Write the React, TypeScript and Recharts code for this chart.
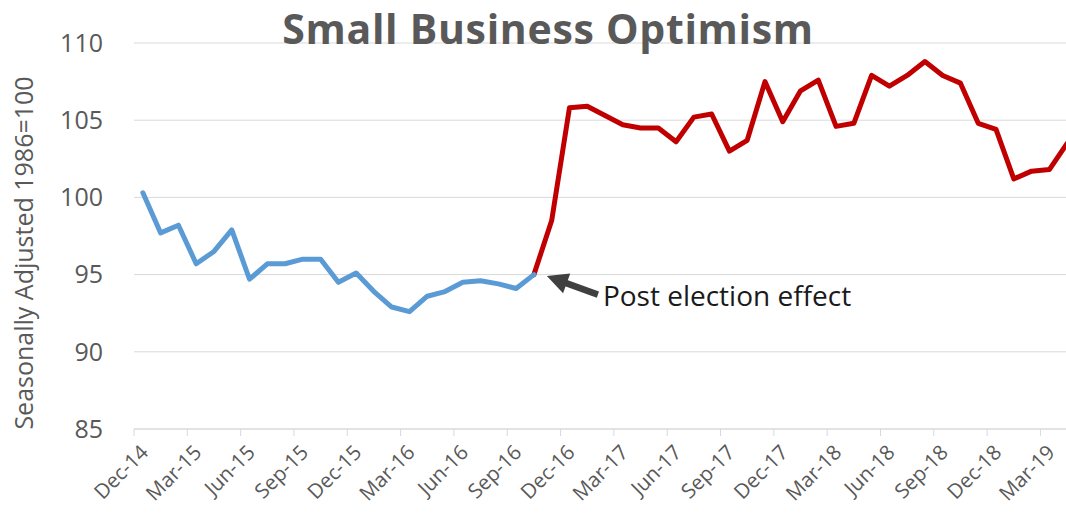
import { LineChart, Line, XAxis, YAxis, CartesianGrid, ReferenceDot } from 'recharts';

const FONT = "'Open Sans', sans-serif";
const GREY = '#595959';
const GRID = '#d9d9d9';

// monthly index, Dec-14 .. Apr-19
const months = [
  'Dec-14',
  'Jan-15', 'Feb-15', 'Mar-15', 'Apr-15', 'May-15', 'Jun-15', 'Jul-15', 'Aug-15', 'Sep-15', 'Oct-15', 'Nov-15', 'Dec-15',
  'Jan-16', 'Feb-16', 'Mar-16', 'Apr-16', 'May-16', 'Jun-16', 'Jul-16', 'Aug-16', 'Sep-16', 'Oct-16', 'Nov-16', 'Dec-16',
  'Jan-17', 'Feb-17', 'Mar-17', 'Apr-17', 'May-17', 'Jun-17', 'Jul-17', 'Aug-17', 'Sep-17', 'Oct-17', 'Nov-17', 'Dec-17',
  'Jan-18', 'Feb-18', 'Mar-18', 'Apr-18', 'May-18', 'Jun-18', 'Jul-18', 'Aug-18', 'Sep-18', 'Oct-18', 'Nov-18', 'Dec-18',
  'Jan-19', 'Feb-19', 'Mar-19', 'Apr-19',
];

// Dec-14 .. Oct-16
const preElection = [
  100.3, 97.7, 98.2, 95.7, 96.5, 97.9, 94.7, 95.7, 95.7, 96.0, 96.0, 94.5,
  95.1, 93.9, 92.9, 92.6, 93.6, 93.9, 94.5, 94.6, 94.4, 94.1, 95.0,
];

// Oct-16 .. Apr-19 (starts on the last pre-election point)
const postElection = [
  95.0, 98.5, 105.8,
  105.9, 105.3, 104.7, 104.5, 104.5, 103.6, 105.2, 105.4, 103.0, 103.7, 107.5, 104.9,
  106.9, 107.6, 104.6, 104.8, 107.9, 107.2, 107.9, 108.8, 107.9, 107.4, 104.8, 104.4,
  101.2, 101.7, 101.8, 103.5,
];

const yTicks = [85, 90, 95, 100, 105, 110];
const electionMonth = 'Oct-16';

const splitAt = preElection.length - 1;
const chartData = months.map((month, i) => ({
  month,
  before: i < preElection.length ? preElection[i] : null,
  after: i >= splitAt ? postElection[i - splitAt] : null,
}));

const MonthTick = (props: any) => {
  const { x, y, payload } = props;
  const half = payload && payload.offset ? payload.offset : 8.9;
  const ax = x + 1;
  const ay = y + 19;
  return (
    <g>
      <line x1={x - half} y1={y} x2={x - half} y2={y + 7} stroke={GRID} strokeWidth={1} />
      <text
        x={ax}
        y={ay}
        transform={`rotate(-45, ${ax}, ${ay})`}
        textAnchor="end"
        dominantBaseline="central"
        fill={GREY}
        fontSize={20.5}
        fontFamily={FONT}
      >
        {payload.value}
      </text>
    </g>
  );
};

const YTitle = (props: any) => {
  const vb = props.viewBox || { x: 0, y: 43, width: 134, height: 386 };
  const cx = 23;
  const cy = vb.y + vb.height / 2 + 17;
  return (
    <text
      x={cx}
      y={cy}
      transform={`rotate(-90, ${cx}, ${cy})`}
      textAnchor="middle"
      dominantBaseline="central"
      fill={GREY}
      fontSize={25}
      fontFamily={FONT}
    >
      Seasonally Adjusted 1986=100
    </text>
  );
};

// arrow + note, placed relative to the election point
const ElectionArrow = (props: any) => {
  const { cx, cy } = props;
  if (cx == null || cy == null) return null;
  const tipX = cx + 13;
  const tipY = cy + 1.5;
  const tailX = cx + 64;
  const tailY = cy + 20;
  const ang = Math.atan2(tailY - tipY, tailX - tipX);
  const ux = Math.cos(ang);
  const uy = Math.sin(ang);
  const headLen = 21;
  const headHalf = 10.5;
  const bx = tipX + ux * headLen;
  const by = tipY + uy * headLen;
  const p1 = `${bx - uy * headHalf},${by + ux * headHalf}`;
  const p2 = `${bx + uy * headHalf},${by - ux * headHalf}`;
  return (
    <g>
      <line x1={bx - ux * 2} y1={by - uy * 2} x2={tailX} y2={tailY} stroke="#404040" strokeWidth={6.5} />
      <polygon points={`${tipX},${tipY} ${p1} ${p2}`} fill="#404040" />
      <text x={cx + 69} y={cy + 31} fill="#1a1a1a" fontSize={28} fontFamily={FONT}>
        Post election effect
      </text>
    </g>
  );
};

export default function App() {
  return (
    <div
      style={{
        position: 'absolute',
        left: 0,
        top: 0,
        width: 1066,
        height: 515,
        overflow: 'hidden',
        background: '#fff',
      }}
    >
      <LineChart
        width={1090}
        height={515}
        data={chartData}
        margin={{ top: 43, right: 14, bottom: 6, left: 0 }}
      >
        <CartesianGrid vertical={false} stroke={GRID} strokeWidth={1} />
        <XAxis
          dataKey="month"
          scale="band"
          interval={2}
          height={80}
          tickLine={false}
          tickSize={0}
          tickMargin={0}
          axisLine={{ stroke: GRID, strokeWidth: 1 }}
          tick={<MonthTick />}
        />
        <YAxis
          type="number"
          domain={[85, 110]}
          ticks={yTicks}
          width={134}
          axisLine={false}
          tickLine={false}
          tickSize={0}
          tickMargin={31}
          tick={{ fill: GREY, fontSize: 25, fontFamily: FONT }}
          label={<YTitle />}
        />
        <Line
          type="linear"
          dataKey="after"
          stroke="#c00000"
          strokeWidth={5}
          strokeLinejoin="round"
          strokeLinecap="round"
          dot={false}
          activeDot={false}
          isAnimationActive={false}
        />
        <Line
          type="linear"
          dataKey="before"
          stroke="#5b9bd5"
          strokeWidth={5}
          strokeLinejoin="round"
          strokeLinecap="round"
          dot={false}
          activeDot={false}
          isAnimationActive={false}
        />
        <ReferenceDot x={electionMonth} y={preElection[splitAt]} shape={<ElectionArrow />} />
      </LineChart>
      <svg
        width={1066}
        height={60}
        style={{ position: 'absolute', left: 0, top: 0, pointerEvents: 'none' }}
      >
        <text
          x={548}
          y={44}
          textAnchor="middle"
          fill={GREY}
          fontSize={41}
          fontWeight={700}
          letterSpacing={0.7}
          fontFamily={FONT}
        >
          Small Business Optimism
        </text>
      </svg>
    </div>
  );
}
